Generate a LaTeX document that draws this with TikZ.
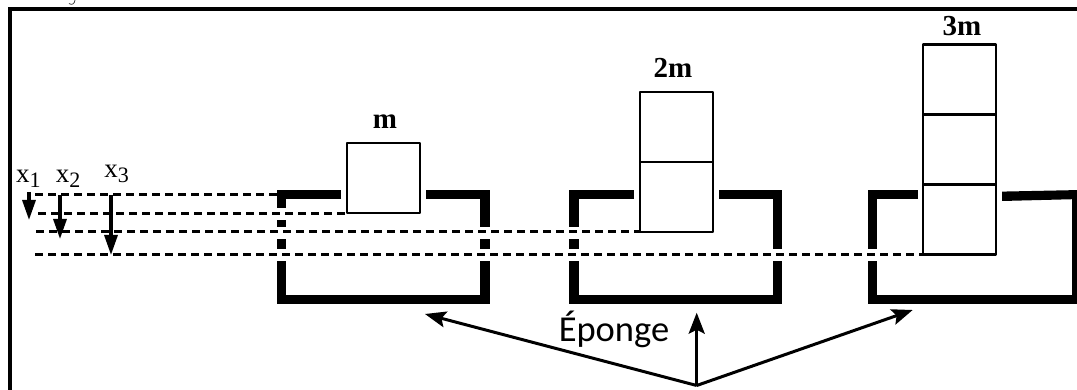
\documentclass[tikz,border=0pt]{standalone}
\usepackage{fontspec}
\setmainfont{Liberation Serif}
\newfontfamily\spongefont{Carlito}
\usetikzlibrary{arrows.meta}
\newcommand{\xlabel}[1]{{\fontsize{27}{27}\selectfont x\raisebox{-5pt}{\fontsize{22}{22}\selectfont #1}}}
\tikzset{
  frameline/.style={line width=4pt},
  wall/.style={line width=9.5pt,miter limit=10,line join=miter},
  gapband/.style={fill=white,draw=none},
  dashline/.style={line width=3pt,dash pattern=on 8pt off 5pt},
  blockbox/.style={draw,line width=2.2pt,inner sep=0pt,outer sep=0pt,minimum width=72.7pt,minimum height=70pt,anchor=south west,line join=round},
  masslabel/.style={font=\bfseries\fontsize{29}{29}\selectfont,anchor=base,inner sep=0pt},
  xlab/.style={anchor=base,inner sep=0pt},
  dimarrow/.style={line width=3.2pt,-{Stealth[length=20pt,width=13pt,inset=0pt]}},
  pointer/.style={line width=3pt,-{Stealth[length=21pt,width=16pt,inset=4pt]}},
}
\begin{document}
\begin{tikzpicture}[x=1pt,y=-1pt]
\path[clip] (0,0) rectangle (1077,390);
% outer frame
\draw[frameline] (1080,9) -- (10,9) -- (10,393);
\draw[line width=0.8pt,black!75] (69,3.5) .. controls (72,5.5) and (74.5,4) .. (75,0);
% containers
\draw[wall] (341,194.5) -- (281.5,194.5) -- (281.5,299.6) -- (485,299.6) -- (485,194.5) -- (426,194.5);
\draw[wall] (634,194.5) -- (574,194.5) -- (574,299.6) -- (777.5,299.6) -- (777.5,194.5) -- (719,194.5);
\draw[wall] (918,194.5) -- (872.3,194.5) -- (872.3,299.6) -- (1076.3,299.6) -- (1076.3,194.5);
\fill (1002,191.6) -- (1081,190) -- (1081,199) -- (1002,201) -- cycle;
% white bands where the levels cross the walls
\fill[gapband] (275,208) rectangle (288,220);
\fill[gapband] (275,227) rectangle (288,239);
\fill[gapband] (275,249) rectangle (288,261);
\fill[gapband] (479,227) rectangle (492,239);
\fill[gapband] (479,249) rectangle (492,261);
\fill[gapband] (567,227) rectangle (580,239);
\fill[gapband] (567,249) rectangle (580,261);
\fill[gapband] (771,249) rectangle (784,261);
\fill[gapband] (866,249) rectangle (879,261);
% masses
\node[blockbox] (m1) at (347,213.3) {};
\node[blockbox] (m2a) at (640,232) {};
\node[blockbox,anchor=south] (m2b) at (m2a.north) {};
\node[blockbox] (m3a) at (923.3,254.5) {};
\node[blockbox,anchor=south] (m3b) at (m3a.north) {};
\node[blockbox,anchor=south] (m3c) at (m3b.north) {};
\node[masslabel] (l1) at (385,129) {m};
\node[masslabel] (l2) at (673,78) {2m};
\node[masslabel] (l3) at (962,35.5) {3m};
% levels
\coordinate (s0) at (35,195);
\coordinate (e0) at (281,195);
\coordinate (s1) at (38,213.3);
\coordinate (s2) at (36,232);
\coordinate (s3) at (35,254.5);
\draw[dashline] (s0) -- (e0);
\draw[dashline] (s1) -- (m1.south west);
\draw[dashline] (s2) -- (m2a.south west);
\draw[dashline] (s3) -- (m3a.south west);
% displacement labels and arrows
\node[xlab] (x1) at (28.3,183) {\xlabel{1}};
\node[xlab] (x2) at (68,183) {\xlabel{2}};
\node[xlab] (x3) at (116.5,177.3) {\xlabel{3}};
\coordinate (a1s) at (29,192); \coordinate (a1e) at (29,220);
\coordinate (a2s) at (60,195); \coordinate (a2e) at (60,239);
\coordinate (a3s) at (111,195); \coordinate (a3e) at (111,255);
\draw[dimarrow] (a1s) -- (a1e);
\draw[dimarrow] (a2s) -- (a2e);
\draw[dimarrow] (a3s) -- (a3e);
% sponge label
\node[font=\spongefont\fontsize{36.5}{36.5}\selectfont,anchor=base,inner sep=0pt] (sponge) at (614,341.7) {Éponge};
\coordinate (apex) at (696.7,385.5);
\coordinate (t1) at (425,314);
\coordinate (t2) at (696.7,312.7);
\coordinate (t3) at (912.7,310);
\draw[pointer] (apex) -- (t1);
\draw[pointer] (apex) -- (t2);
\draw[pointer] (apex) -- (t3);
\end{tikzpicture}
\end{document}
